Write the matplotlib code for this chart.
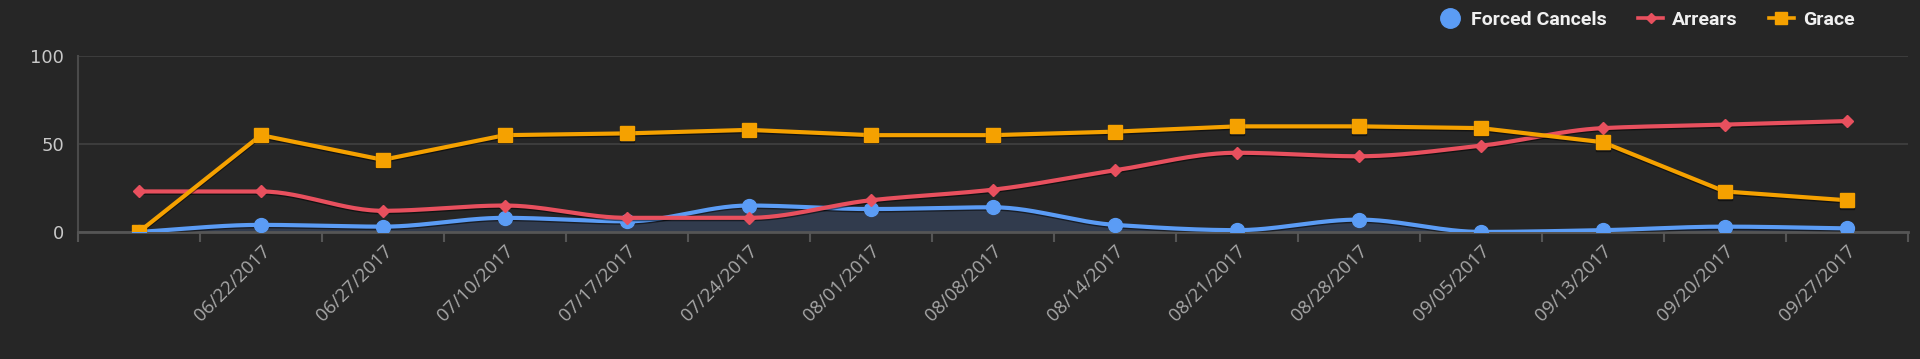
import numpy as np
import matplotlib.pyplot as plt
from matplotlib.lines import Line2D
import matplotlib.patheffects as pe

dates = ["", "06/22/2017", "06/27/2017", "07/10/2017", "07/17/2017", "07/24/2017",
         "08/01/2017", "08/08/2017", "08/14/2017", "08/21/2017", "08/28/2017",
         "09/05/2017", "09/13/2017", "09/20/2017", "09/27/2017"]
forced_cancels = [0, 4, 3, 8, 6, 15, 13, 14, 4, 1, 7, 0, 1, 3, 2]
arrears = [23, 23, 12, 15, 8, 8, 18, 24, 35, 45, 43, 49, 59, 61, 63]
grace = [0, 55, 41, 55, 56, 58, 55, 55, 57, 60, 60, 59, 51, 23, 18]

bg = "#262626"
blue = "#5b9cf5"
red = "#e8505e"
orange = "#f5a100"


def smooth(x, y, n=30):
    # monotone cubic (Fritsch-Carlson) so the line looks like a "smooth" series
    x = np.asarray(x, float)
    y = np.asarray(y, float)
    h = np.diff(x)
    d = np.diff(y) / h
    m = np.zeros_like(y)
    m[0], m[-1] = d[0], d[-1]
    for i in range(1, len(y) - 1):
        if d[i - 1] * d[i] > 0:
            w1 = 2 * h[i] + h[i - 1]
            w2 = h[i] + 2 * h[i - 1]
            m[i] = (w1 + w2) / (w1 / d[i - 1] + w2 / d[i])
    xs, ys = [], []
    for i in range(len(y) - 1):
        t = np.linspace(0, 1, n, endpoint=False)
        h00 = 2 * t**3 - 3 * t**2 + 1
        h10 = t**3 - 2 * t**2 + t
        h01 = -2 * t**3 + 3 * t**2
        h11 = t**3 - t**2
        xs.append(x[i] + t * h[i])
        ys.append(h00 * y[i] + h10 * h[i] * m[i] + h01 * y[i + 1] + h11 * h[i] * m[i + 1])
    xs.append([x[-1]])
    ys.append([y[-1]])
    return np.concatenate(xs), np.concatenate(ys)


fig = plt.figure(figsize=(19.2, 3.59), dpi=100, facecolor=bg)
ax = fig.add_axes([0.0406, 0.354, 0.953, 0.490])
ax.set_facecolor(bg)

x = np.arange(len(dates))
shadow = [pe.SimpleLineShadow(offset=(0, -1), shadow_color="black", alpha=0.5), pe.Normal()]

# Forced Cancels: smooth area
sx, sy = smooth(x, forced_cancels)
ax.fill_between(sx, 0, sy, color="#313b4d", zorder=2)
ax.plot(sx, sy, color=blue, lw=3, zorder=3, path_effects=shadow)
ax.plot(x, forced_cancels, "o", color=blue, ms=10, zorder=3.1)

# Arrears: smooth line
sx, sy = smooth(x, arrears)
ax.plot(sx, sy, color=red, lw=3, zorder=4, path_effects=shadow)
ax.plot(x, arrears, "D", color=red, ms=6, zorder=4.1)

# Grace: straight line
ax.plot(x, grace, "-s", color=orange, lw=3, ms=10, zorder=5, path_effects=shadow)

ax.set_xlim(-0.5, len(dates) - 0.5)
ax.set_ylim(0, 100)
ax.set_yticks([0, 50, 100])
ax.yaxis.grid(True, color="#3c3c3c", lw=1.5)
ax.set_axisbelow(True)

for s in ["top", "right"]:
    ax.spines[s].set_visible(False)
ax.spines["left"].set_color("#4a4a4a")
ax.spines["bottom"].set_color("#555555")
ax.spines["left"].set_linewidth(1.5)
ax.spines["bottom"].set_linewidth(2)
ax.spines["left"].set_bounds(0, 100)

ax.set_xticks(np.arange(-0.5, len(dates)), minor=True)
ax.set_xticks(x)
ax.set_xticklabels(dates, rotation=45, ha="right", va="top", rotation_mode="anchor",
                   color="#a8a8a8", fontsize=13.5, family=["Open Sans", "DejaVu Sans"])
ax.tick_params(axis="x", which="major", length=0, pad=7)
ax.tick_params(axis="x", which="minor", length=7, width=1.5, color="#555555")
ax.tick_params(axis="y", length=0, pad=10, labelcolor="#c8c8c8", labelsize=13)

handles = [
    Line2D([], [], marker="o", ls="none", color=blue, ms=14),
    Line2D([], [], marker="D", color=red, lw=2.6, ms=5),
    Line2D([], [], marker="s", color=orange, lw=2.6, ms=9),
]
fig.legend(handles, ["Forced Cancels", "Arrears", "Grace"], ncol=3, frameon=False,
           loc="upper right", bbox_to_anchor=(0.975, 1.018), labelcolor="#f0f0f0",
           prop={"family": ["Roboto", "DejaVu Sans"], "size": 14, "weight": "bold"},
           handlelength=1.3, handletextpad=0.45, columnspacing=1.6)

fig.savefig("out.png", dpi=100, facecolor=bg)
